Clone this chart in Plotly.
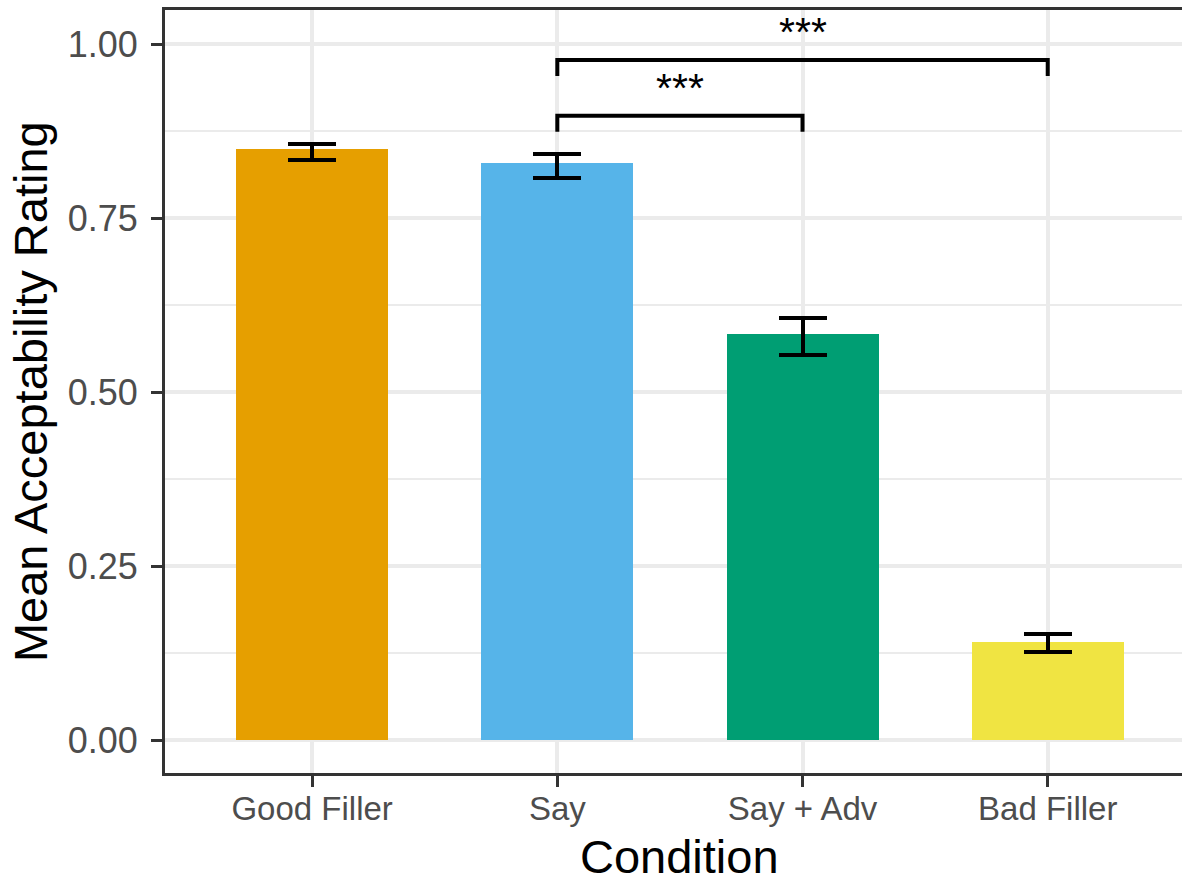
import plotly.graph_objects as go

# ---- data ----
conditions = ["Good Filler", "Say", "Say + Adv", "Bad Filler"]
mean_rating = [0.849, 0.829, 0.583, 0.141]
ci_upper = [0.857, 0.842, 0.607, 0.152]
ci_lower = [0.834, 0.808, 0.553, 0.126]
bar_colors = ["#E69F00", "#56B4E9", "#009E73", "#F0E442"]

comparisons = [("Say", "Say + Adv"), ("Say", "Bad Filler")]
bracket_y = [0.897, 0.977]
sig_labels = ["***", "***"]

y_tickvals = [0.0, 0.25, 0.5, 0.75, 1.0]
y_ticktext = ["0.00", "0.25", "0.50", "0.75", "1.00"]

FONT = "Liberation Sans, Arial, sans-serif"

err_plus = [u - m for u, m in zip(ci_upper, mean_rating)]
err_minus = [m - l for m, l in zip(mean_rating, ci_lower)]

fig = go.Figure()
fig.add_trace(go.Bar(
    x=conditions, y=mean_rating, width=0.62,
    marker=dict(color=bar_colors, line=dict(width=0)),
    error_y=dict(type="data", symmetric=False, array=err_plus, arrayminus=err_minus,
                 color="black", thickness=4, width=24),
    showlegend=False,
))

tip = 0.023
for (a, b), yb, lab in zip(comparisons, bracket_y, sig_labels):
    xa = conditions.index(a)
    xb = conditions.index(b)
    fig.add_shape(type="path", xref="x", yref="y",
                  path=f"M {xa},{yb - tip} L {xa},{yb} L {xb},{yb} L {xb},{yb - tip}",
                  line=dict(color="black", width=4), layer="above")
    fig.add_annotation(x=(xa + xb) / 2, y=yb, xref="x", yref="y", text=lab,
                       showarrow=False, yanchor="bottom", yshift=3,
                       font=dict(family=FONT, size=41, color="black"))

x_range = [-0.6, 3.5476]
y_range = [-0.0474, 1.0489]

# axis titles as annotations for exact placement
fig.add_annotation(text="Condition", xref="x", yref="paper",
                   x=(len(conditions) - 1) / 2, y=-0.1088,
                   xanchor="center", yanchor="middle", showarrow=False,
                   font=dict(family=FONT, size=47, color="black"))
fig.add_annotation(text="Mean Acceptability Rating", xref="paper", yref="y",
                   x=-0.1327, y=(y_tickvals[0] + y_tickvals[-1]) / 2,
                   xanchor="center", yanchor="middle", textangle=-90, showarrow=False,
                   font=dict(family=FONT, size=47, color="black"))

fig.update_layout(
    width=1182, height=874,
    margin=dict(l=165, r=0, t=10, b=101),
    plot_bgcolor="white", paper_bgcolor="white",
    bargap=0,
)
fig.update_xaxes(
    range=x_range,
    showline=True, linecolor="#333333", linewidth=3, mirror=True,
    ticks="outside", ticklen=11, tickwidth=3, tickcolor="#333333",
    showgrid=True, gridcolor="#EBEBEB", gridwidth=3.5,
    tickfont=dict(family=FONT, size=33, color="#4D4D4D"),
    ticklabelstandoff=-7,
    automargin=False,
    zeroline=False,
)
fig.update_yaxes(
    range=y_range,
    tickvals=y_tickvals, ticktext=y_ticktext,
    showline=True, linecolor="#333333", linewidth=3, mirror=False,
    ticks="outside", ticklen=11, tickwidth=3, tickcolor="#333333",
    showgrid=True, gridcolor="#EBEBEB", gridwidth=3.5,
    minor=dict(tickvals=[0.125, 0.375, 0.625, 0.875], showgrid=True,
               gridcolor="#EBEBEB", gridwidth=2, ticks=""),
    tickfont=dict(family=FONT, size=36, color="#4D4D4D"),
    ticklabelstandoff=6,
    automargin=False,
    zeroline=False,
)

fig.write_html("out.html")
